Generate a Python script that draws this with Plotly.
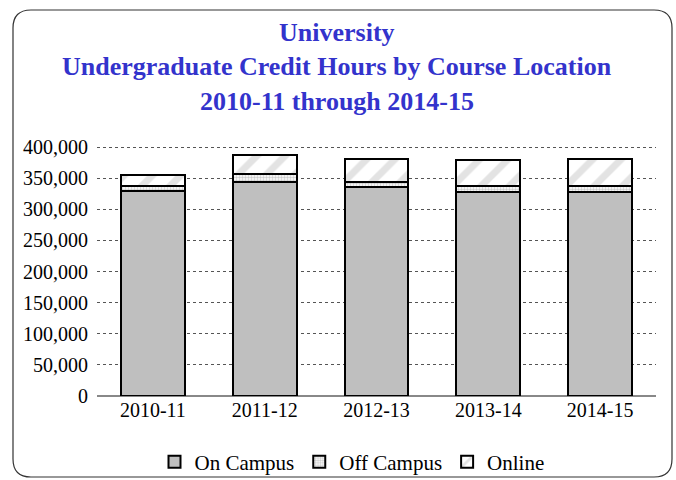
import plotly.graph_objects as go

years = ["2010-11", "2011-12", "2012-13", "2013-14", "2014-15"]
on_campus = [329800, 343800, 335700, 327200, 327200]
off_campus = [8000, 12800, 7600, 9600, 10000]
online = [18000, 31000, 38000, 42800, 43000]

W, H = 676, 480
ML, MR, MT, MB = 97, 20, 146, 84
PW, PH = W - ML - MR, H - MT - MB

def px(x):
    return (x - ML) / PW

def py(y):
    return (H - MB - y) / PH

fig = go.Figure()
fig.add_bar(name="On Campus", x=years, y=on_campus,
            marker=dict(color="#BFBFBF", line=dict(color="black", width=2)))
fig.add_bar(name="Off Campus", x=years, y=off_campus,
            marker=dict(color="white", line=dict(color="black", width=2),
                        pattern=dict(shape=".", size=3, solidity=0.5,
                                     fgcolor="#9a9a9a", bgcolor="white")))
fig.add_bar(name="Online", x=years, y=online,
            marker=dict(color="white", line=dict(color="black", width=2),
                        pattern=dict(shape="/", size=20, solidity=0.35,
                                     fgcolor="#C8C8C8", bgcolor="white")))

font = "Liberation Serif, Times New Roman, serif"
title_lines = ["University", "Undergraduate Credit Hours by Course Location",
               "2010-11 through 2014-15"]
title_y = [32, 67, 101]
for t, ty in zip(title_lines, title_y):
    fig.add_annotation(text="<b>" + t + "</b>", xref="paper", yref="paper",
                       x=px(337), y=py(ty), xanchor="center", yanchor="middle",
                       showarrow=False,
                       font=dict(family=font, size=26, color="#3333CC"))

# rounded border
x0, x1, y0, y1, r = 13, 672, 10, 477, 18
path = (f"M {px(x0+r)},{py(y0)} L {px(x1-r)},{py(y0)} "
        f"Q {px(x1)},{py(y0)} {px(x1)},{py(y0+r)} "
        f"L {px(x1)},{py(y1-r)} Q {px(x1)},{py(y1)} {px(x1-r)},{py(y1)} "
        f"L {px(x0+r)},{py(y1)} Q {px(x0)},{py(y1)} {px(x0)},{py(y1-r)} "
        f"L {px(x0)},{py(y0+r)} Q {px(x0)},{py(y0)} {px(x0+r)},{py(y0)} Z")
fig.add_shape(type="path", path=path, xref="paper", yref="paper",
              line=dict(color="#333333", width=1.2), layer="below")

fig.update_layout(
    width=W, height=H,
    margin=dict(l=ML, r=MR, t=MT, b=MB, autoexpand=False),
    barmode="stack", bargap=0.43,
    paper_bgcolor="white", plot_bgcolor="white",
    font=dict(family=font, size=20, color="black"),
    showlegend=True,
    legend=dict(orientation="h", xref="paper", x=px(352), xanchor="center",
                yref="paper", y=py(462), yanchor="middle",
                bgcolor="rgba(0,0,0,0)",
                font=dict(family=font, size=21), itemwidth=30,
                traceorder="normal", tracegroupgap=0),
    xaxis=dict(type="category", showgrid=False, ticks="", showline=False,
               tickfont=dict(family=font, size=20)),
    yaxis=dict(range=[0, 401700], tick0=0, dtick=50000, tickformat=",",
               showgrid=True, gridcolor="#555555", griddash="dot", gridwidth=1,
               zeroline=True, zerolinecolor="#888888", zerolinewidth=1.5,
               ticks="", ticklabelstandoff=8,
               tickfont=dict(family=font, size=20)),
)

fig.write_html("out.html", config={"displayModeBar": False},
               post_script="document.body.style.margin='0';")
